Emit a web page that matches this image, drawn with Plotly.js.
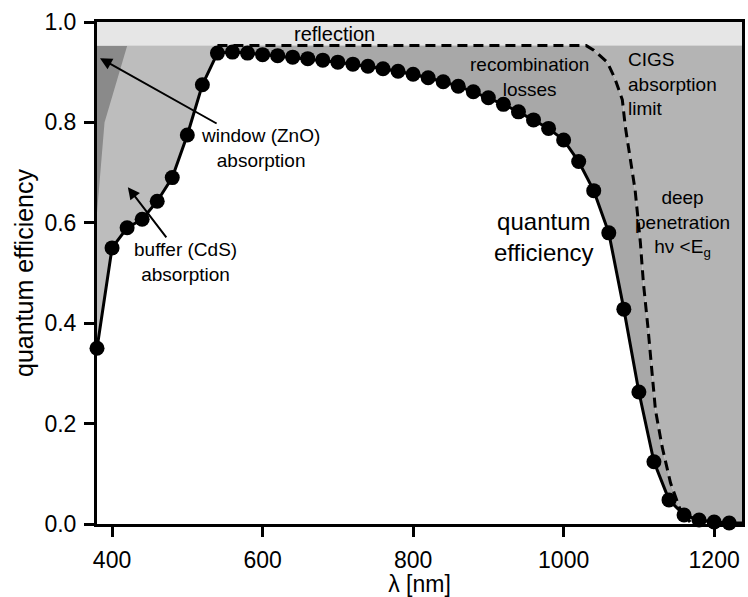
<!DOCTYPE html>
<html>
<head>
<meta charset="utf-8">
<script src="https://cdn.plot.ly/plotly-3.0.1.min.js"></script>
<style>html,body{margin:0;padding:0;background:#fff;}#chart{width:748px;height:597px;}</style>
</head>
<body>
<div id="chart"></div>
<script>
// Quantum efficiency measurement (nm, fraction)
const wavelength = [380,400,420,440,460,480,500,520,540,560,580,600,620,640,660,680,700,720,740,760,780,800,820,840,860,880,900,920,940,960,980,1000,1020,1040,1060,1080,1100,1120,1140,1160,1180,1200,1220,1240];
const qe = [0.35,0.55,0.59,0.607,0.643,0.69,0.775,0.875,0.938,0.940,0.938,0.935,0.933,0.930,0.927,0.924,0.920,0.916,0.912,0.907,0.902,0.896,0.889,0.881,0.872,0.861,0.849,0.836,0.821,0.805,0.788,0.765,0.722,0.664,0.580,0.428,0.263,0.124,0.048,0.018,0.008,0.004,0.002,0.002];

// CIGS absorption limit (dashed)
const limitWl = [540,1030,1040,1058,1068,1078,1082,1088,1095,1102,1106,1112,1118,1122,1131,1142,1155,1168];
const limitQe = [0.953,0.953,0.944,0.920,0.888,0.845,0.791,0.731,0.665,0.560,0.480,0.392,0.301,0.227,0.153,0.082,0.028,0.004];

// window (ZnO) absorption, darker corner region
const windowWl = [380,420,390,380];
const windowQe = [0.952,0.952,0.80,0.62];

const limitLevel = 0.953;
const topLevel = 1.0;
const xMin = 380, xMax = 1240;

const xTicks = [400,600,800,1000,1200];
const yTicks = [0,0.2,0.4,0.6,0.8,1.0];

const FONT = 'Liberation Sans, Arial, sans-serif';
const nBlue = 9; // points up to 540 nm bound the left absorption region

const traces = [];
// reflection band
traces.push({x:[xMin,xMax,xMax,xMin], y:[limitLevel,limitLevel,topLevel,topLevel], fill:'toself', mode:'lines', line:{width:0}, fillcolor:'#e6e6e6', hoverinfo:'skip', showlegend:false});
// window/buffer absorption (left)
const leftX = wavelength.slice(0,nBlue).concat([wavelength[nBlue-1], xMin]);
const leftY = qe.slice(0,nBlue).concat([limitLevel, limitLevel]);
traces.push({x:leftX, y:leftY, fill:'toself', mode:'lines', line:{width:0}, fillcolor:'#bdbdbd', hoverinfo:'skip', showlegend:false});
traces.push({x:windowWl, y:windowQe, fill:'toself', mode:'lines', line:{width:0}, fillcolor:'#8a8a8a', hoverinfo:'skip', showlegend:false});
// recombination losses
const recX = limitWl.slice();
const recY = limitQe.slice();
for (let i = wavelength.length-1; i >= 0; i--) {
  if (wavelength[i] >= 540 && wavelength[i] <= 1160) { recX.push(wavelength[i]); recY.push(qe[i]); }
}
traces.push({x:recX, y:recY, fill:'toself', mode:'lines', line:{width:0}, fillcolor:'#a8a8a8', hoverinfo:'skip', showlegend:false});
// deep penetration
const deepX = limitWl.slice(1).concat([xMax, xMax]);
const deepY = limitQe.slice(1).concat([0, limitLevel]);
traces.push({x:deepX, y:deepY, fill:'toself', mode:'lines', line:{width:0}, fillcolor:'#b4b4b4', hoverinfo:'skip', showlegend:false});
// dashed limit
traces.push({x:limitWl, y:limitQe, mode:'lines', line:{color:'#000', width:3, dash:'10px,6px'}, hoverinfo:'skip', showlegend:false});
// QE curve
traces.push({x:wavelength, y:qe, mode:'lines+markers', line:{color:'#000', width:3}, marker:{color:'#000', size:15}, cliponaxis:false, showlegend:false});

function lab(text, x, y, size, extra) {
  return Object.assign({text:text, x:x, y:y, xref:'x', yref:'y', showarrow:false, font:{family:FONT, size:size, color:'#000'}}, extra||{});
}
// text with an arrow: arrow head at (hx,hy), text centred at (tx,ty)
function arrowLab(text, hx, hy, tx, ty, size) {
  return {text:text, x:hx, y:hy, ax:tx, ay:ty, xref:'x', yref:'y', axref:'x', ayref:'y', showarrow:true, arrowhead:2, arrowsize:1.2, arrowwidth:2, arrowcolor:'#000', standoff:0, startstandoff:0, font:{family:FONT, size:size, color:'#000'}};
}

const annotations = [
  lab('reflection', 696, 0.976, 20),
  lab('recombination<br>losses', 955, 0.89, 19),
  lab('CIGS<br>absorption<br>limit', 1083, 0.876, 19, {xanchor:'left', align:'left'}),
  lab('deep<br>penetration<br>hν &lt;E<sub>g</sub>', 1158, 0.598, 19),
  lab('quantum<br>efficiency', 974, 0.572, 24),
  arrowLab('window (ZnO)<br>absorption', 384, 0.928, 597, 0.749, 19),
  arrowLab('buffer (CdS)<br>absorption', 421, 0.671, 497, 0.522, 19)
];

const layout = {
  width:748, height:597,
  margin:{l:97, r:6, t:22, b:73},
  paper_bgcolor:'#fff', plot_bgcolor:'#fff',
  font:{family:FONT, color:'#000'},
  xaxis:{range:[380,1237], tickvals:xTicks, ticktext:xTicks.map(String), ticks:'outside', ticklen:10, tickwidth:3, tickcolor:'#000', showline:true, linewidth:3, linecolor:'#000', mirror:true, showgrid:false, zeroline:false, tickfont:{size:23, family:FONT}, ticklabelstandoff:3, title:{text:'λ [nm]', font:{size:23, family:FONT}, standoff:6}},
  yaxis:{range:[0,1], tickvals:yTicks, ticktext:yTicks.map(v=>v.toFixed(1)), ticks:'outside', ticklen:10, tickwidth:3, tickcolor:'#000', showline:true, linewidth:3, linecolor:'#000', mirror:true, showgrid:false, zeroline:false, tickfont:{size:23, family:FONT}, ticklabelstandoff:3, title:{text:'quantum efficiency', font:{size:25, family:FONT}, standoff:4}},
  annotations: annotations,
  showlegend:false
};

Plotly.newPlot('chart', traces, layout, {staticPlot:true, displayModeBar:false});
</script>
</body>
</html>
